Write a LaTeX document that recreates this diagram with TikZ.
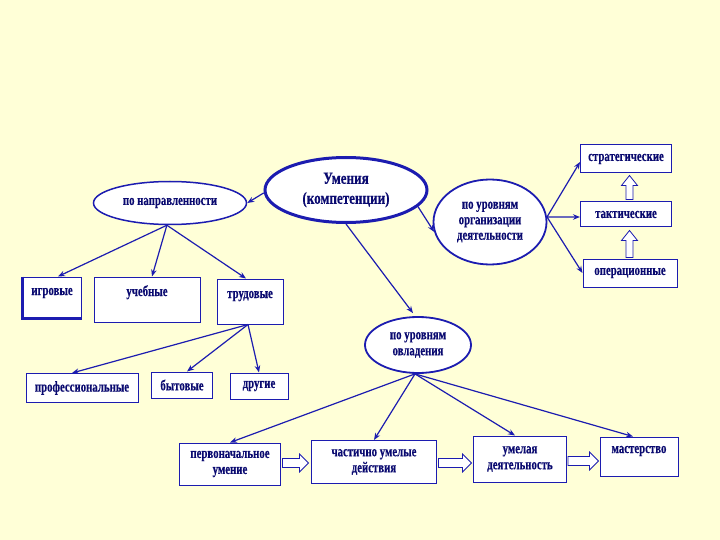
\documentclass[tikz,border=0pt]{standalone}
\usepackage{fontspec}
\usetikzlibrary{shapes.geometric,arrows.meta,calc}
\newfontfamily\df{Liberation Serif}[FakeStretch=0.72,FakeBold=0.4]
\newfontfamily\tf{Liberation Serif}[FakeStretch=0.77,FakeBold=0.4]
\definecolor{bg}{HTML}{FFFFD7}
\definecolor{lblue}{HTML}{1C1CB0}
\definecolor{tnavy}{HTML}{0A0A70}
\newcommand\hblk[2]{\draw[blk] let \p1=(#1), \p2=(#2) in (\x1,\y1-4.5pt) -- (\x2-9pt,\y1-4.5pt) -- (\x2-9pt,\y1-9pt) -- (\x2,\y1) -- (\x2-9pt,\y1+9pt) -- (\x2-9pt,\y1+4.5pt) -- (\x1,\y1+4.5pt) -- cycle;}
\newcommand\vblk[2]{\draw[blk] let \p1=(#1), \p2=(#2) in (\x1-3.5pt,\y1) -- (\x1-3.5pt,\y2-10pt) -- (\x1-8pt,\y2-10pt) -- (\x1,\y2) -- (\x1+8pt,\y2-10pt) -- (\x1+3.5pt,\y2-10pt) -- (\x1+3.5pt,\y1) -- cycle;}
\tikzset{
  txt/.style={font=\df\bfseries\fontsize{15}{16}\selectfont, text=tnavy, align=center},
  ell/.style={ellipse, draw=lblue, fill=white, line width=1.8pt, inner sep=0pt, txt},
  box/.style={rectangle, draw=lblue, fill=white, line width=1pt, inner sep=0pt, txt},
  toptext/.style={text height=10pt, text depth=#1},
  lnk/.style={draw=lblue, line width=1.2pt, -{Stealth[length=7pt,width=5.5pt]}},
  blk/.style={draw=lblue, fill=white, line width=0.8pt},
}
\begin{document}
\begin{tikzpicture}[x=1pt,y=-1pt]
\path[fill=bg] (0,0) rectangle (720,540);
\useasboundingbox (0,0) rectangle (720,540);
% ellipses
\node[ell, line width=3pt, minimum width=162pt, minimum height=65pt, font=\tf\bfseries\fontsize{17}{20}\selectfont] (M) at (346,190) {Умения\\(компетенции)};
\node[ell, line width=1.5pt, minimum width=153pt, minimum height=43pt] (N) at (170,203) {по направленности};
\node[ell, minimum width=113pt, minimum height=85pt, font=\df\bfseries\fontsize{15}{15.5}\selectfont] (O) at (490,222) {по уровням\\организации\\деятельности};
\node[ell, minimum width=106pt, minimum height=56pt] (V) at (418,345) {по уровням\\овладения};
% right boxes
\node[box, minimum width=91pt, minimum height=28pt] (S) at (626,159) {стратегические};
\node[box, minimum width=91pt, minimum height=25pt] (T) at (626,214.5) {тактические};
\node[box, minimum width=94pt, minimum height=28pt] (Op) at (630,273) {операционные};
% row 1
\node[box, minimum width=58pt, minimum height=41pt, toptext=15pt] (I) at (52,297.5) {игровые};
\node[box, minimum width=106pt, minimum height=45pt, toptext=17pt] (U) at (147,299.5) {учебные};
\node[box, minimum width=66pt, minimum height=45pt, toptext=17pt] (Tr) at (250,301.5) {трудовые};
\draw[draw=lblue, line width=2.2pt] (I.north west) -- (I.south west) -- (I.south east);
% row 2
\node[box, minimum width=112pt, minimum height=29pt] (P) at (82,388) {профессиональные};
\node[box, minimum width=61pt, minimum height=26pt] (B) at (182,385) {бытовые};
\node[box, minimum width=58pt, minimum height=26pt] (D) at (259,386) {другие};
% bottom row
\node[box, minimum width=101pt, minimum height=42pt] (Pv) at (230,464) {первоначальное\\умение};
\node[box, minimum width=125pt, minimum height=43pt] (C) at (374,462) {частично умелые\\действия};
\node[box, minimum width=93pt, minimum height=46pt] (Ue) at (520,459) {умелая\\деятельность};
\node[box, minimum width=78pt, minimum height=39pt, toptext=17pt] (Ms) at (639,456.5) {мастерство};
% connectors
\draw[lnk] (M.182) -- (N.east);
\draw[lnk] (M.-13) -- (O.190);
\draw[lnk] (M.south) -- ([xshift=-5pt,yshift=3pt]V.north);
\draw[lnk] (N.262) -- ([xshift=6pt]I.north);
\draw[lnk] (N.262) -- ([xshift=5pt]U.north);
\draw[lnk] (N.262) -- ([xshift=-4pt]Tr.north);
\draw[lnk] ([xshift=-2pt]Tr.south) -- ([xshift=-10pt]P.north);
\draw[lnk] ([xshift=-2pt]Tr.south) -- ([xshift=5pt]B.north);
\draw[lnk] ([xshift=-2pt]Tr.south) -- (D.north);
\draw[lnk] (O.5) -- ([yshift=-3pt]S.west);
\draw[lnk] (O.5) -- ([yshift=-2.5pt]T.west);
\draw[lnk] (O.5) -- (Op.west);
\draw[lnk] ([xshift=-3pt]V.south) -- (Pv.north);
\draw[lnk] ([xshift=-3pt]V.south) -- (C.north);
\draw[lnk] ([xshift=-3pt]V.south) -- ([xshift=-5pt]Ue.north);
\draw[lnk] ([xshift=-3pt]V.south) -- ([xshift=-6pt]Ms.north);
% block arrows
\vblk{$(T.north)+(3.5,-2)$}{$(S.south)+(3.5,2)$}
\vblk{$(Op.north)+(-0.5,-1)$}{$(T.south)+(3.5,3)$}
\hblk{$(Pv.east)+(1.5,-1)$}{$(C.west)+(-2.5,0)$}
\hblk{$(C.east)+(1.5,1)$}{$(Ue.west)+(-1.5,0)$}
\hblk{$(Ue.east)+(1,2)$}{$(Ms.west)+(-1,0)$}
\end{tikzpicture}
\end{document}
